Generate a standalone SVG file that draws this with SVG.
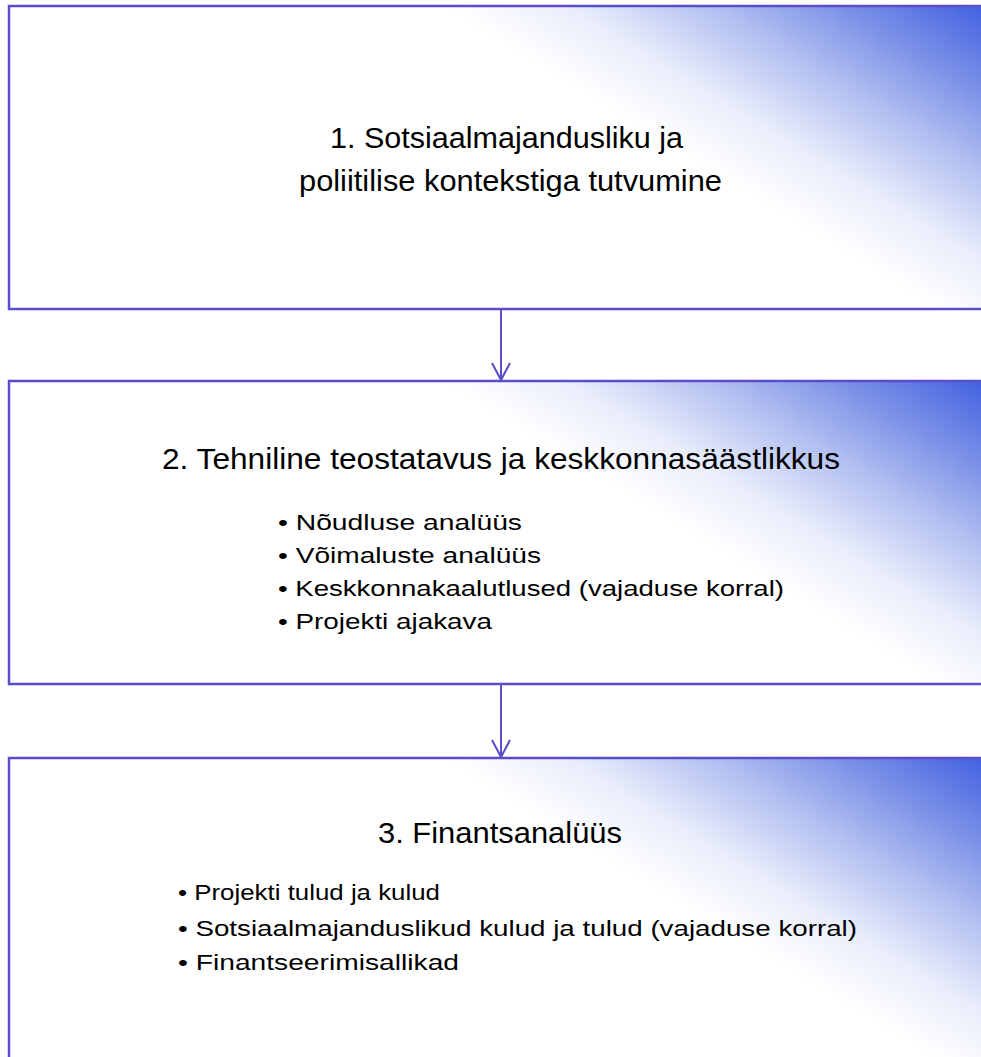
<svg xmlns="http://www.w3.org/2000/svg" width="981" height="1057" viewBox="0 0 981 1057">
<defs>
<linearGradient id="g1" gradientUnits="userSpaceOnUse" x1="1000" y1="6" x2="848" y2="255">
<stop offset="0" stop-color="#3b5be0"/><stop offset="0.28" stop-color="#7a90e7"/><stop offset="0.52" stop-color="#b3c0f1"/><stop offset="0.78" stop-color="#eaeefb"/><stop offset="1" stop-color="#ffffff"/>
</linearGradient>
<linearGradient id="g2" href="#g1" x1="1000" y1="381" x2="848" y2="630"/>
<linearGradient id="g3" href="#g1" x1="1000" y1="758" x2="848" y2="1007"/>
</defs>
<style>
.box{stroke:#5b4dc9;stroke-width:2.5}
.t{font-family:"Liberation Sans",Arial,sans-serif;fill:#000;}
.h{font-size:29px}
.b{font-size:22px}
.c{stroke:#5b4dc9;stroke-width:2;fill:none}
</style>
<rect width="981" height="1057" fill="#ffffff"/>
<g id="node1">
<rect class="box" x="9" y="6" width="1100" height="303" fill="url(#g1)"/>
<text class="t h" x="330" y="148" textLength="353" lengthAdjust="spacingAndGlyphs">1. Sotsiaalmajandusliku ja</text>
<text class="t h" x="299" y="191" textLength="423" lengthAdjust="spacingAndGlyphs">poliitilise kontekstiga tutvumine</text>
</g>
<g id="node2">
<rect class="box" x="9" y="381" width="1100" height="303" fill="url(#g2)"/>
<text class="t h" x="162" y="469" textLength="678" lengthAdjust="spacingAndGlyphs">2. Tehniline teostatavus ja keskkonnasäästlikkus</text>
<text class="t b" x="278" y="530" textLength="244" lengthAdjust="spacingAndGlyphs">• Nõudluse analüüs</text>
<text class="t b" x="278" y="563" textLength="263" lengthAdjust="spacingAndGlyphs">• Võimaluste analüüs</text>
<text class="t b" x="278" y="596" textLength="506" lengthAdjust="spacingAndGlyphs">• Keskkonnakaalutlused (vajaduse korral)</text>
<text class="t b" x="278" y="629" textLength="214" lengthAdjust="spacingAndGlyphs">• Projekti ajakava</text>
</g>
<g id="node3">
<rect class="box" x="9" y="758" width="1100" height="400" fill="url(#g3)"/>
<text class="t h" x="378" y="843" textLength="244" lengthAdjust="spacingAndGlyphs">3. Finantsanalüüs</text>
<text class="t b" x="178" y="900" textLength="262" lengthAdjust="spacingAndGlyphs">• Projekti tulud ja kulud</text>
<text class="t b" x="178" y="936" textLength="679" lengthAdjust="spacingAndGlyphs">• Sotsiaalmajanduslikud kulud ja tulud (vajaduse korral)</text>
<text class="t b" x="178" y="970" textLength="281" lengthAdjust="spacingAndGlyphs">• Finantseerimisallikad</text>
</g>
<g id="connectors">
<line class="c" x1="501" y1="310" x2="501" y2="380"/>
<polyline class="c" points="492,363 501,380 510,363"/>
<line class="c" x1="501" y1="685" x2="501" y2="757"/>
<polyline class="c" points="492,740 501,757 510,740"/>
</g>
</svg>
